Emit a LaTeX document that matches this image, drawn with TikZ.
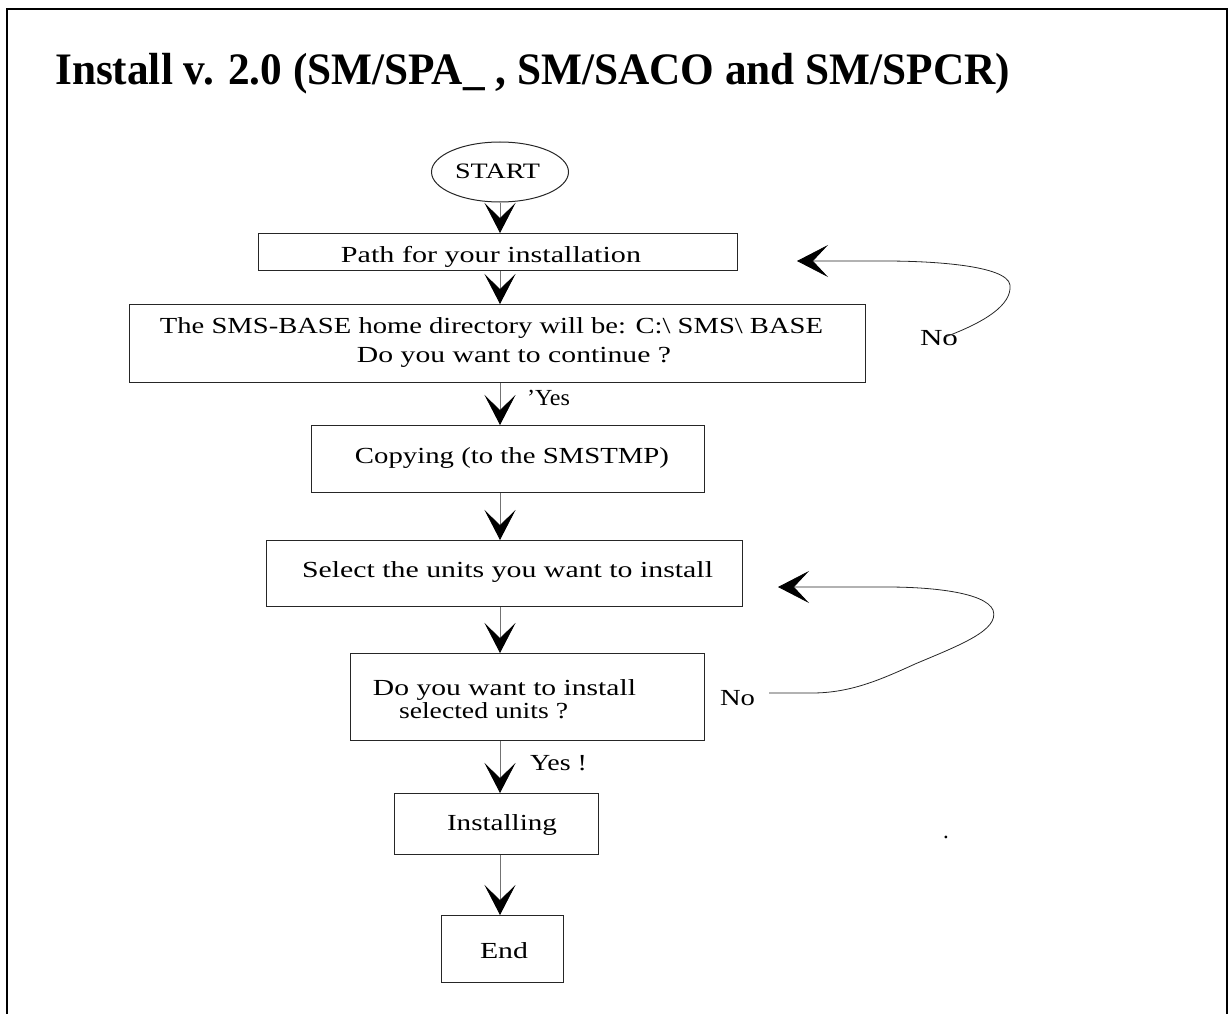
\documentclass[tikz,border=0pt]{standalone}
\usepackage{fontspec}
\setmainfont{Liberation Serif}
\usetikzlibrary{arrows.meta,shapes.geometric}
\newcommand{\fw}[2]{\resizebox{#1}{\height}{#2}}
\begin{document}
\begin{tikzpicture}[x=1pt,y=-1pt,
  box/.style={draw=black!85, line width=1.1pt, inner sep=0pt, anchor=north west},
  txt/.style={inner sep=0pt, anchor=base, font=\fontsize{23}{28}\selectfont},
  flow/.style={draw=black!55, line width=0.8pt, -{Stealth[length=30pt,width=31pt,inset=15pt,color=black]}},
  loopflow/.style={draw=black!85, line width=0.8pt, -{Stealth[length=31pt,width=32pt,inset=15pt,color=black]}}]
\useasboundingbox (0,0) rectangle (1231,1014);
% frame
\draw[line width=1.6pt] (7,1014) -- (7,9) -- (1227,9) -- (1227,1014);
% title
\node[inner sep=0pt, anchor=base west, font=\fontsize{45}{50}\selectfont\bfseries] (title) at (55,85)
  {\fw{955pt}{Install v. 2.0 (SM/SPA\_ , SM/SACO and SM/SPCR)}};
% start
\node[draw=black!85, line width=1pt, ellipse, minimum width=137pt, minimum height=60pt, inner sep=0pt] (start) at (500,172) {};
\node[txt, font=\fontsize{22}{26}\selectfont] (startT) at (497.5,178) {\fw{85pt}{START}};
% boxes
\node[box, minimum width=479pt, minimum height=37pt] (path) at (258,233) {};
\node[box, minimum width=736pt, minimum height=78pt] (sms) at (129,304) {};
\node[box, minimum width=393pt, minimum height=67pt] (copy) at (311,425) {};
\node[box, minimum width=476pt, minimum height=66pt] (select) at (266,540) {};
\node[box, minimum width=354pt, minimum height=87pt] (ask) at (350,653) {};
\node[box, minimum width=204pt, minimum height=61pt] (inst) at (394,793) {};
\node[box, minimum width=122pt, minimum height=67pt] (fin) at (441,915) {};
% texts
\node[txt] (pathT) at (491,262) {\fw{300pt}{Path for your installation}};
\node[txt] (smsA) at (491.5,333) {\fw{663pt}{The SMS-BASE home directory will be: C:\textbackslash{} SMS\textbackslash{} BASE}};
\node[txt] (smsB) at (514,362) {\fw{314pt}{Do you want to continue ?}};
\node[txt] (yes1) at (548.5,405) {\fw{43pt}{'Yes}};
\node[txt] (copyT) at (512,463) {\fw{314pt}{Copying (to the SMSTMP)}};
\node[txt] (selectT) at (507.5,577) {\fw{411pt}{Select the units you want to install}};
\node[txt] (askA) at (504.5,695) {\fw{263pt}{Do you want to install}};
\node[txt] (askB) at (483.5,718) {\fw{169pt}{selected units ?}};
\node[txt] (no2) at (737.5,705) {\fw{35pt}{No}};
\node[txt] (yes2) at (558.5,770) {\fw{57pt}{Yes !}};
\node[txt] (instT) at (502,830) {\fw{110pt}{Installing}};
\node[txt] (finT) at (504,958) {\fw{48pt}{End}};
\node[txt] (no1) at (939,345) {\fw{38pt}{No}};
\node[txt] (dot) at (946,838) {.};
% main flow
\draw[flow] (start.south) -- (start.south |- path.north);
\draw[flow] (path.south -| start) -- (sms.north -| start);
\draw[flow] (sms.south -| start) -- (copy.north -| start);
\draw[flow] (copy.south -| start) -- (select.north -| start);
\draw[flow] (select.south -| start) -- (ask.north -| start);
\draw[flow] (ask.south -| start) -- (inst.north -| start);
\draw[flow] (inst.south -| start) -- (fin.north -| start);
% loops
\coordinate (l1s) at (945,337);
\coordinate (l1e) at (797,261);
\draw[loopflow] (l1s) .. controls (985,322) and (1012,305) .. (1010,285)
  .. controls (1007,265) and (930,261) .. (885,261) -- (l1e);
\coordinate (l2s) at (769,693);
\coordinate (l2e) at (778,587);
\draw[loopflow] (l2s) -- (812,693) .. controls (850,693) and (880,680) .. (915,664)
  .. controls (960,645) and (1000,630) .. (993,610)
  .. controls (985,592) and (930,587) .. (887,587) -- (l2e);
\end{tikzpicture}
\end{document}
